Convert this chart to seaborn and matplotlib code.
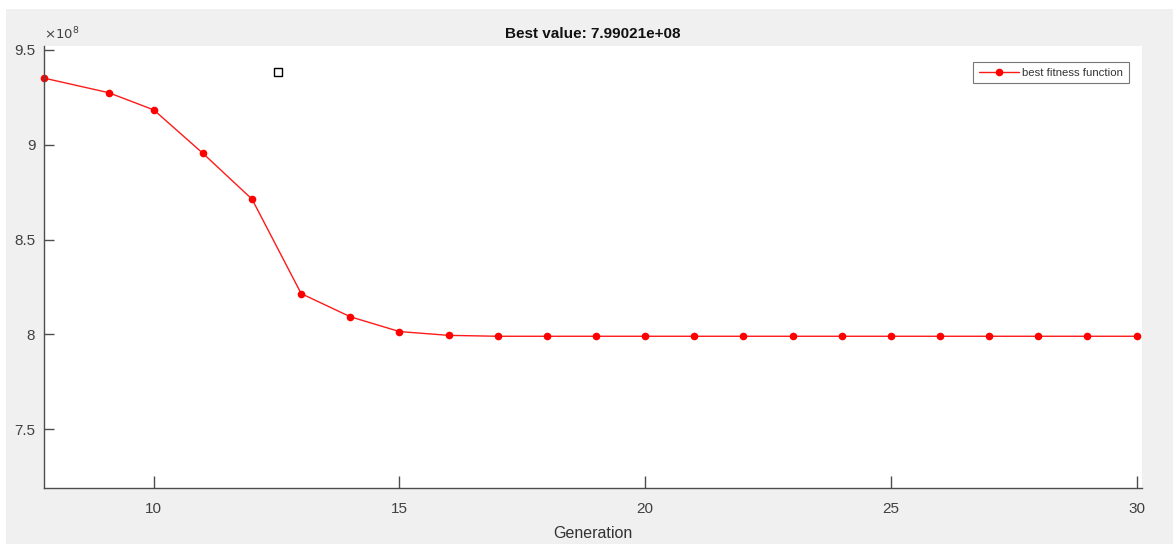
import matplotlib
matplotlib.use("Agg")
import matplotlib.pyplot as plt
from matplotlib.patches import Rectangle
from matplotlib.ticker import FuncFormatter
import seaborn as sns
import pandas as pd

# ---- data ----
generation = [7.76, 9.08, 10, 11, 12, 13, 14, 15, 16, 17, 18, 19, 20, 21, 22,
              23, 24, 25, 26, 27, 28, 29, 30]
best_fitness = [9.352e8, 9.275e8, 9.184e8, 8.955e8, 8.713e8, 8.215e8, 8.093e8,
                8.015e8, 7.995e8, 7.9902e8, 7.9902e8, 7.9902e8, 7.9902e8,
                7.9902e8, 7.9902e8, 7.9902e8, 7.9902e8, 7.9902e8, 7.9902e8,
                7.9902e8, 7.9902e8, 7.9902e8, 7.99021e8]
square_x = [12.53]
square_y = [9.384e8]
x_ticks = [10, 15, 20, 25, 30]
y_ticks = [7.5e8, 8e8, 8.5e8, 9e8, 9.5e8]
title_text = "Best value: 7.99021e+08"
xlabel_text = "Generation"
legend_label = "best fitness function"

df = pd.DataFrame({"Generation": generation, "Fitness": best_fitness})

sns.set_style("white")
plt.rcParams["font.family"] = ["Liberation Sans", "DejaVu Sans"]

W, H = 1173, 544
fig = plt.figure(figsize=(W / 100, H / 100), dpi=100)
fig.patch.set_facecolor("white")
# MATLAB-like gray panel
fig.patches.append(Rectangle((6 / W, 0), 1 - 6 / W, 1 - 9 / H,
                             transform=fig.transFigure, facecolor="#f0f0f0",
                             edgecolor="none", zorder=-10))

ax = fig.add_axes([43.7 / W, 1 - 488 / H, (1142 - 43.7) / W, (488 - 46) / H])
ax.set_facecolor("white")

sns.lineplot(data=df, x="Generation", y="Fitness", ax=ax, color="#ff1a1a",
             linewidth=1.0, marker="o", markersize=5.5, markeredgewidth=0,
             markerfacecolor="#ff0000", label=legend_label, clip_on=False)
ax.plot(square_x, square_y, linestyle="none", marker="s", markersize=5.5,
        markerfacecolor="white", markeredgecolor="black", markeredgewidth=1.0)

ax.set_xlim(7.76, 30.11)
ax.set_ylim(7.19e8, 9.521e8)
ax.set_xticks(x_ticks)
ax.set_yticks(y_ticks)
ax.yaxis.set_major_formatter(FuncFormatter(lambda v, p: "%g" % (v / 1e8)))

for s in ["top", "right"]:
    ax.spines[s].set_visible(False)
for s in ["left", "bottom"]:
    ax.spines[s].set_color("#4d4d4d")
    ax.spines[s].set_linewidth(1.0)

ax.tick_params(axis="both", direction="in", colors="#4d4d4d",
               labelcolor="#404040", labelsize=11, width=1.0)
ax.tick_params(axis="x", length=9, pad=10)
ax.tick_params(axis="y", length=7, pad=6)
ax.tick_params(left=True, bottom=True)

ax.set_xlabel(xlabel_text, fontsize=11.5, color="#333333", labelpad=7)
ax.set_ylabel("")
ax.set_title(title_text, fontsize=11, fontweight="bold", color="#111111", pad=6)

ax.text(0.0, 1.008, r"$\times10^{8}$", transform=ax.transAxes,
        fontsize=9.5, color="#404040", ha="left", va="bottom")

leg = ax.legend(loc="upper right", fontsize=8.2, frameon=True, fancybox=False,
                edgecolor="#555555", borderpad=0.5, handlelength=3.5,
                handletextpad=0.3, borderaxespad=0.0,
                bbox_to_anchor=(0.988, 0.964))
leg.get_frame().set_linewidth(0.8)
for t in leg.get_texts():
    t.set_color("#333333")

fig.savefig("out.png", dpi=100, facecolor=fig.get_facecolor())
